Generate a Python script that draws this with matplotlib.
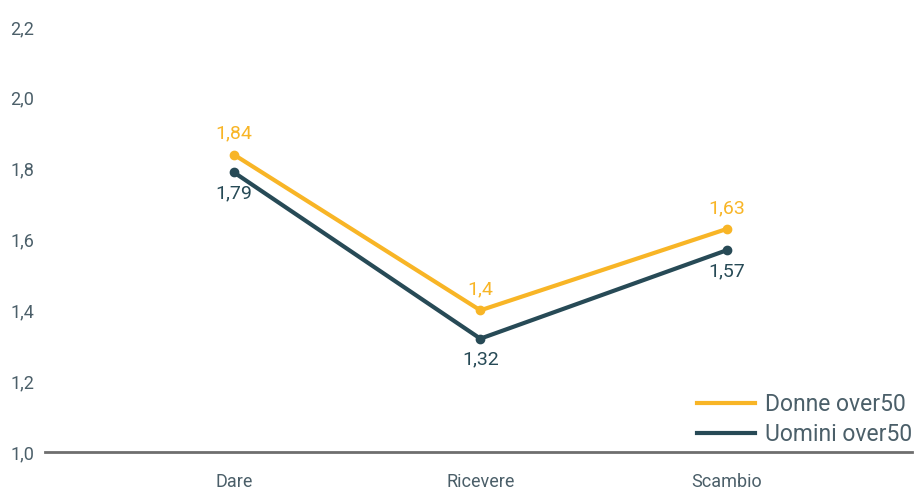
import matplotlib.pyplot as plt
from matplotlib.lines import Line2D

categories = ['Dare', 'Ricevere', 'Scambio']
donne = [1.84, 1.40, 1.63]
uomini = [1.79, 1.32, 1.57]
donne_labels = ['1,84', '1,4', '1,63']
uomini_labels = ['1,79', '1,32', '1,57']
yticks = [1.0, 1.2, 1.4, 1.6, 1.8, 2.0, 2.2]

yellow = '#F8B526'
teal = '#274A56'
text_col = '#4B5F69'

plt.rcParams['font.family'] = ['Roboto', 'DejaVu Sans']

fig = plt.figure(figsize=(9.14, 4.9), dpi=100)
ax = fig.add_axes([45 / 914, 38 / 490, 867 / 914, 425 / 490])

x = list(range(len(categories)))
ax.plot(x, donne, color=yellow, lw=3, marker='o', ms=6, zorder=3)
ax.plot(x, uomini, color=teal, lw=3, marker='o', ms=6, zorder=3)

for xi, v, s in zip(x, donne, donne_labels):
    ax.annotate(s, (xi, v), xytext=(0, 15), textcoords='offset points',
                ha='center', va='center', color=yellow, fontsize=14)
for xi, v, s in zip(x, uomini, uomini_labels):
    ax.annotate(s, (xi, v), xytext=(0, -15), textcoords='offset points',
                ha='center', va='center', color=teal, fontsize=14)

ax.set_xlim(-0.765, 2.75)
ax.set_ylim(1.0, 2.2)
ax.set_xticks(x)
ax.set_xticklabels(categories)
ax.set_yticks(yticks)
ax.set_yticklabels([f'{t:.1f}'.replace('.', ',') for t in yticks])
ax.tick_params(axis='both', length=0, labelsize=13, colors=text_col)
ax.tick_params(axis='x', pad=15)
ax.tick_params(axis='y', pad=0)
for lab in ax.get_yticklabels():
    lab.set_horizontalalignment('left')
    lab.set_x(-35 / 867)

for spine in ['top', 'right', 'left']:
    ax.spines[spine].set_visible(False)
ax.spines['bottom'].set_color('#6E6E6E')
ax.spines['bottom'].set_linewidth(2)

handles = [Line2D([], [], color=yellow, lw=3), Line2D([], [], color=teal, lw=3)]
leg = ax.legend(handles, ['Donne over50', 'Uomini over50'], loc='lower right',
                bbox_to_anchor=(1.0, 0.015), frameon=False, fontsize=16.5,
                handlelength=2.5, handletextpad=0.45, labelspacing=0.28,
                borderaxespad=0, borderpad=0)
for t in leg.get_texts():
    t.set_color(text_col)

fig.savefig('out.png', dpi=100)
